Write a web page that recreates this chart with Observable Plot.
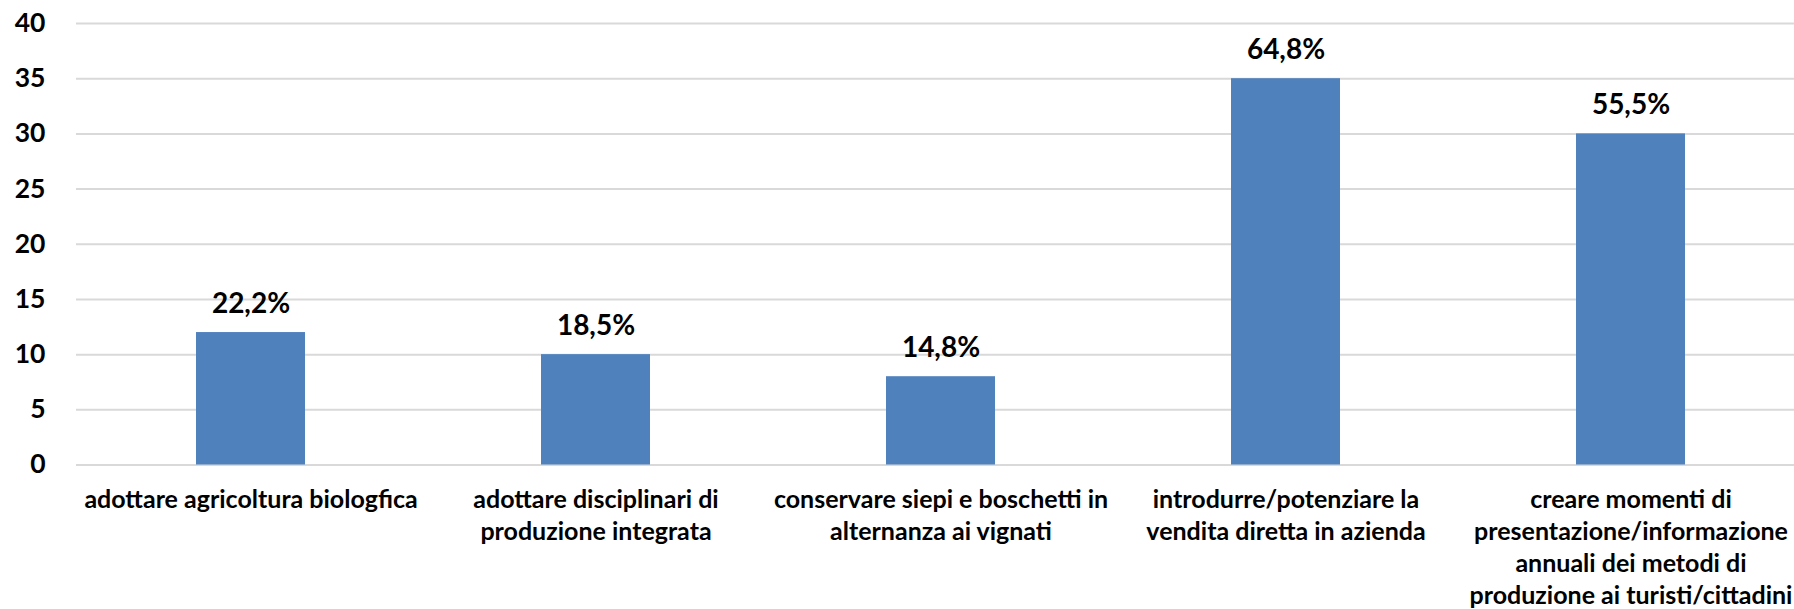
<!DOCTYPE html>
<html>
<head>
<meta charset="utf-8">
<script src="https://cdn.jsdelivr.net/npm/d3@7"></script>
<script src="https://cdn.jsdelivr.net/npm/@observablehq/plot@0.6"></script>
<style>
  html, body { margin: 0; padding: 0; background: #fff; overflow: hidden; }
  #chart svg { display: block; }
</style>
</head>
<body>
<div id="chart"></div>
<script>
const categories = [
  "adottare agricoltura biologfica",
  "adottare disciplinari di\nproduzione integrata",
  "conservare siepi e boschetti in\nalternanza ai vignati",
  "introdurre/potenziare la\nvendita diretta in azienda",
  "creare momenti di\npresentazione/informazione\nannuali dei metodi di\nproduzione ai turisti/cittadini"
];
const values = [12, 10, 8, 35, 30];
const valueLabels = ["22,2%", "18,5%", "14,8%", "64,8%", "55,5%"];
const yTicks = [0, 5, 10, 15, 20, 25, 30, 35, 40];

const data = categories.map((c, i) => ({category: c, value: values[i], label: valueLabels[i]}));

const chart = Plot.plot({
  width: 1794,
  height: 609,
  marginTop: 23,
  marginBottom: 144.5,
  marginLeft: 76,
  marginRight: 0,
  style: {fontFamily: "Lato", fontWeight: 700, background: "#fff", color: "#000"},
  x: {domain: categories, range: [76, 1804], paddingInner: 0.6855, paddingOuter: 0.34275, axis: null},
  y: {domain: [0, 40], axis: null},
  marks: [
    Plot.ruleY(yTicks, {stroke: "#d9d9d9", strokeWidth: 2}),
    Plot.barY(data, {x: "category", y: "value", fill: "#4F81BD"}),
    Plot.axisY(yTicks, {tickSize: 0, tickPadding: 31, fontSize: 26.5, fontWeight: 700, label: null, fill: "#000"}),
    Plot.text(data, {x: "category", y: "value", text: "label", lineAnchor: "bottom", dy: -20, fontSize: 28, fontWeight: 700, fill: "#000"}),
    Plot.text(data, {x: "category", frameAnchor: "bottom", text: "category", lineAnchor: "top", dy: 19.8, fontSize: 25, lineHeight: 1.28, fontWeight: 700, fill: "#000"})
  ]
});
document.getElementById("chart").appendChild(chart);
</script>
</body>
</html>
